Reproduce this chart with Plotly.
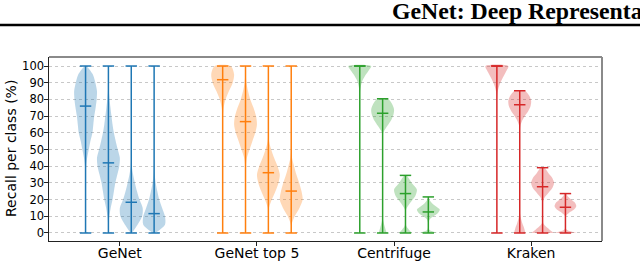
import plotly.graph_objects as go

# ---------------- data ----------------
methods = ["GeNet", "GeNet top 5", "Centrifuge", "Kraken"]
colors = ["#1f77b4", "#ff7f0e", "#2ca02c", "#d62728"]
y_ticks = [0, 10, 20, 30, 40, 50, 60, 70, 80, 90, 100]

# per-violin minimum, median, maximum (recall %, 4 violins per method)
mins = {
    "GeNet": [0, 0, 0, 0],
    "GeNet top 5": [0, 0, 0, 0],
    "Centrifuge": [0, 0, 0, 0],
    "Kraken": [0, 0, 0, 0],
}
medians = {
    "GeNet": [76, 42, 18.4, 11.6],
    "GeNet top 5": [91.8, 66.7, 36.1, 25.1],
    "Centrifuge": [100, 71.7, 23.6, 12.6],
    "Kraken": [100, 76.8, 27.7, 15.4],
}
maxs = {
    "GeNet": [100, 100, 100, 100],
    "GeNet top 5": [100, 100, 100, 100],
    "Centrifuge": [100, 80.4, 34.5, 21.6],
    "Kraken": [100, 85.2, 39.1, 23.6],
}

# density profiles (relative width, 1 = widest)
grid_0_100 = [0, 5, 10, 15, 20, 25, 30, 35, 40, 45, 50, 55, 60, 65, 70, 75, 80, 85, 90, 95, 100]

genet_levels = [grid_0_100] * 4
genet_widths = [
    [0.01, 0.01, 0.01, 0.01, 0.01, 0.01, 0.01, 0.02, 0.05, 0.14, 0.28, 0.42, 0.6, 0.68, 0.76, 0.88, 0.97, 1.0, 0.86, 0.63, 0.06],
    [0.0, 0.02, 0.08, 0.2, 0.36, 0.48, 0.6, 0.78, 0.95, 1.0, 0.82, 0.64, 0.48, 0.36, 0.27, 0.18, 0.1, 0.04, 0.02, 0.01, 0.01],
    [0.05, 0.55, 0.95, 1.0, 0.72, 0.5, 0.32, 0.16, 0.05, 0.02, 0.01, 0.01, 0.01, 0.01, 0.01, 0.01, 0.01, 0.01, 0.01, 0.01, 0.01],
    [0.1, 0.95, 0.95, 0.7, 0.45, 0.28, 0.14, 0.05, 0.02, 0.01, 0.01, 0.01, 0.01, 0.01, 0.01, 0.01, 0.01, 0.01, 0.01, 0.01, 0.01],
]

top5_levels = [grid_0_100] * 4
top5_widths = [
    [0.01, 0.01, 0.01, 0.01, 0.01, 0.01, 0.01, 0.01, 0.01, 0.01, 0.01, 0.01, 0.01, 0.01, 0.02, 0.08, 0.25, 0.55, 0.88, 1.0, 0.7],
    [0.01, 0.01, 0.01, 0.01, 0.01, 0.01, 0.01, 0.01, 0.03, 0.12, 0.35, 0.6, 0.85, 1.0, 0.92, 0.7, 0.42, 0.22, 0.08, 0.03, 0.02],
    [0.01, 0.01, 0.01, 0.05, 0.3, 0.62, 0.88, 1.0, 0.8, 0.5, 0.25, 0.06, 0.01, 0.01, 0.01, 0.01, 0.01, 0.01, 0.01, 0.01, 0.01],
    [0.01, 0.03, 0.3, 0.72, 1.0, 0.9, 0.7, 0.45, 0.25, 0.07, 0.01, 0.01, 0.01, 0.01, 0.01, 0.01, 0.01, 0.01, 0.01, 0.01, 0.01],
]

centrifuge_levels = [
    [0, 50, 80, 85, 88, 91, 94, 97, 100],
    [0, 3, 6, 9, 20, 40, 55, 60, 63, 67, 71, 74, 77, 80.4],
    [0, 2, 4, 6, 10, 14, 18, 22, 26, 30, 34.5],
    [0, 1, 2, 4, 6, 8, 10, 12, 14, 16, 18, 20, 21.6],
]
centrifuge_widths = [
    [0.01, 0.01, 0.01, 0.03, 0.1, 0.22, 0.45, 0.75, 1.0],
    [0.35, 0.22, 0.1, 0.01, 0.01, 0.01, 0.01, 0.05, 0.3, 0.7, 0.95, 1.0, 0.85, 0.45],
    [0.57, 0.3, 0.08, 0.01, 0.01, 0.05, 0.4, 0.85, 1.0, 0.55, 0.1],
    [0.8, 0.35, 0.08, 0.01, 0.02, 0.1, 0.45, 0.85, 1.0, 0.65, 0.3, 0.08, 0.02],
]

kraken_levels = [
    [0, 50, 80, 84, 88, 92, 96, 100],
    [0, 3, 6, 9, 12, 30, 60, 64, 67, 70, 73, 76, 79, 82, 85.2],
    [0, 1.5, 3, 4.5, 6, 10, 18, 21, 24, 27, 30, 33, 36, 39.1],
    [0, 1, 2, 3, 6, 10, 12, 14, 16, 18, 20, 22, 23.6],
]
kraken_widths = [
    [0.01, 0.01, 0.01, 0.05, 0.2, 0.45, 0.75, 1.0],
    [0.5, 0.38, 0.22, 0.1, 0.02, 0.01, 0.01, 0.05, 0.2, 0.45, 0.75, 0.95, 1.0, 0.85, 0.45],
    [1.0, 0.7, 0.45, 0.2, 0.05, 0.01, 0.02, 0.15, 0.5, 0.85, 1.0, 0.85, 0.5, 0.15],
    [1.0, 0.45, 0.12, 0.02, 0.01, 0.02, 0.3, 0.75, 0.95, 0.85, 0.5, 0.2, 0.05],
]

levels = {"GeNet": genet_levels, "GeNet top 5": top5_levels,
          "Centrifuge": centrifuge_levels, "Kraken": kraken_levels}
widths = {"GeNet": genet_widths, "GeNet top 5": top5_widths,
          "Centrifuge": centrifuge_widths, "Kraken": kraken_widths}

# ---------------- layout constants ----------------
GROUP_STEP = 6
HALF_W = 0.5      # half width of the widest part of a violin (x units)
CAP_HALF = 0.25   # half length of cap / median lines


def rgba(hex_color, a):
    h = hex_color.lstrip("#")
    r, g, b = int(h[0:2], 16), int(h[2:4], 16), int(h[4:6], 16)
    return f"rgba({r},{g},{b},{a})"


fig = go.Figure()
tick_pos = []
for gi, m in enumerate(methods):
    col = colors[gi]
    positions = [GROUP_STEP * gi + j for j in range(4)]
    tick_pos.append(sum(positions) / 4)
    # bodies
    for j, p in enumerate(positions):
        lv = list(levels[m][j])
        wd = widths[m][j]
        xs = [p + HALF_W * w for w in wd] + [p - HALF_W * w for w in reversed(wd)]
        ys = lv + lv[::-1]
        fig.add_trace(go.Scatter(
            x=xs, y=ys, mode="lines", fill="toself",
            fillcolor=rgba(col, 0.3),
            line=dict(width=0, color=rgba(col, 0), shape="spline", smoothing=0.8),
            hoverinfo="skip", showlegend=False))
    # stems, caps, medians
    lx, ly = [], []
    for j, p in enumerate(positions):
        lx += [p, p, None]
        ly += [mins[m][j], maxs[m][j], None]
        for v in (mins[m][j], maxs[m][j], medians[m][j]):
            lx += [p - CAP_HALF, p + CAP_HALF, None]
            ly += [v, v, None]
    fig.add_trace(go.Scatter(x=lx, y=ly, mode="lines",
                             line=dict(color=col, width=1.5),
                             hoverinfo="skip", showlegend=False))

L, R, T, B = 49, 38, 57, 20
W, H = 640, 261
pw, ph = W - L - R, H - T - B

fig.update_layout(
    width=W, height=H,
    margin=dict(l=L, r=R, t=T, b=B, pad=0, autoexpand=False),
    paper_bgcolor="white", plot_bgcolor="white",
    font=dict(family="DejaVu Sans", size=12, color="black"),
    xaxis=dict(range=[-1.6, 22.6], tickvals=tick_pos, ticktext=methods,
               ticks="outside", ticklen=3.5, tickwidth=1, tickcolor="#222",
               ticklabelstandoff=-4,
               showgrid=False, zeroline=False, automargin=False,
               showline=True, linecolor="#222", linewidth=1.3, mirror=False,
               tickfont=dict(size=14)),
    yaxis=dict(range=[-4.8, 105.4], tickvals=y_ticks,
               ticks="outside", ticklen=3.5, tickwidth=1, tickcolor="#222",
               ticklabelstandoff=-2,
               showgrid=True, gridcolor="#c8c8c8", griddash="dot", gridwidth=1,
               zeroline=False, automargin=False,
               showline=True, linecolor="#222", linewidth=1.3, mirror=False,
               tickfont=dict(size=11.5)),
)

# y axis title
fig.add_annotation(text="Recall per class (%)", xref="paper", yref="paper",
                   x=(11 - L) / pw, y=(H - B - 149) / ph, textangle=-90,
                   xanchor="center", yanchor="middle", showarrow=False,
                   font=dict(family="DejaVu Sans", size=14, color="black"))

# top / right frame (lighter)
fig.add_shape(type="line", xref="paper", yref="paper", x0=0, x1=1, y0=1, y1=1,
              line=dict(color="#8a8a8a", width=2))
fig.add_shape(type="line", xref="paper", yref="paper", x0=1, x1=1, y0=0, y1=1,
              line=dict(color="#8a8a8a", width=2))

# page header
fig.add_shape(type="line", xref="paper", yref="paper",
              x0=-L / pw, x1=(W - L) / pw,
              y0=(H - B - 25) / ph, y1=(H - B - 25) / ph,
              line=dict(color="black", width=2.5))
fig.add_annotation(text="<b>GeNet: Deep Representations for Metagenomics</b>",
                   xref="paper", yref="paper",
                   x=(390 - L) / pw, y=(H - B - 11) / ph,
                   xanchor="left", yanchor="middle", showarrow=False,
                   font=dict(family="Liberation Serif", size=23.8, color="black"))

fig.write_html(
    "out.html",
    config={"displayModeBar": False},
    post_script="document.body.style.margin='0';document.body.style.overflow='hidden';",
)
